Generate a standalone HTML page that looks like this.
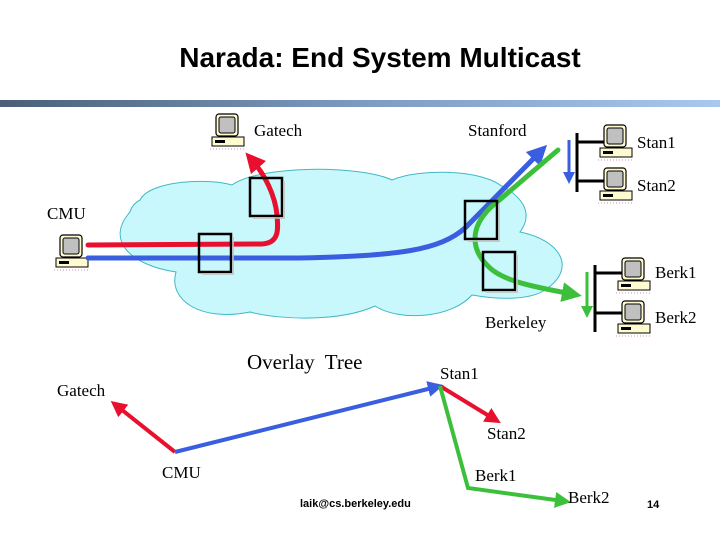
<!DOCTYPE html>
<html><head><meta charset="utf-8"><style>
body{margin:0;width:720px;height:540px;background:#fff;overflow:hidden}
svg{display:block}
.s{font-family:"Liberation Serif",serif;font-size:17px;fill:#000}
</style></head><body>
<svg width="720" height="540" viewBox="0 0 720 540">
<defs>
<linearGradient id="g" x1="0" x2="1"><stop offset="0" stop-color="#4a6078"/><stop offset="0.5" stop-color="#7d9ac0"/><stop offset="1" stop-color="#a8c8f0"/></linearGradient>
<marker id="ar" markerWidth="4" markerHeight="4" refX="2" refY="2" orient="auto" markerUnits="strokeWidth"><path d="M0,0 L4,2 L0,4 Z" fill="#e8102e"/></marker>
<marker id="ab" markerWidth="4" markerHeight="4" refX="2" refY="2" orient="auto" markerUnits="strokeWidth"><path d="M0,0 L4,2 L0,4 Z" fill="#3a5ee0"/></marker>
<marker id="ag" markerWidth="4" markerHeight="4" refX="2" refY="2" orient="auto" markerUnits="strokeWidth"><path d="M0,0 L4,2 L0,4 Z" fill="#3cc03c"/></marker>
<g id="pc">
<rect x="6" y="0" width="22" height="22" rx="3" fill="#fffbd0" stroke="#000" stroke-width="1.2"/>
<rect x="9" y="3" width="16" height="16" rx="2" fill="#c0c0c0" stroke="#000"/>
<rect x="2" y="23" width="32" height="9" fill="#fffbd0" stroke="#000"/>
<rect x="5" y="26" width="10" height="3" fill="#000"/>
<line x1="0" y1="35" x2="36" y2="35" stroke="#d090c0" stroke-dasharray="1,2"/>
</g>
</defs>
<text x="380" y="67" text-anchor="middle" font-family="Liberation Sans,sans-serif" font-size="28" font-weight="bold" fill="#000">Narada: End System Multicast</text>
<rect x="0" y="100" width="720" height="7" fill="url(#g)"/>
<path d="M140,200 C150,180 210,178 232,185 C260,165 360,165 392,180 C420,168 480,170 500,185 C520,195 535,212 520,232 C560,240 578,268 545,290 C530,300 500,300 472,295 C452,318 400,322 375,306 C340,322 280,320 250,312 C200,322 168,300 176,272 C130,265 105,240 130,212 C132,205 136,202 140,200 Z" fill="#c8f8fc" stroke="#40b8c8" stroke-width="1"/>
<use href="#pc" x="210" y="114"/>
<use href="#pc" x="54" y="235"/>
<use href="#pc" x="598" y="125"/>
<use href="#pc" x="598" y="168"/>
<use href="#pc" x="616" y="258"/>
<use href="#pc" x="616" y="301"/>
<g stroke="#000" stroke-width="3">
<line x1="577" y1="133" x2="577" y2="192"/><line x1="577" y1="142" x2="604" y2="142"/><line x1="577" y1="181" x2="604" y2="181"/>
<line x1="595" y1="265" x2="595" y2="332"/><line x1="595" y1="273" x2="622" y2="273"/><line x1="595" y1="313" x2="622" y2="313"/>
</g>
<line x1="569" y1="140" x2="569" y2="178" stroke="#3a5ee0" stroke-width="3" marker-end="url(#ab)"/>
<line x1="587" y1="272" x2="587" y2="312" stroke="#3cc03c" stroke-width="3" marker-end="url(#ag)"/>
<g fill="none" stroke-linecap="round">
<path d="M88,245 L262,244 C280,243 278,228 277,215 C275,195 265,175 252,160" stroke="#e8102e" stroke-width="5" marker-end="url(#ar)"/>
<path d="M88,258 L300,258 C400,256 440,250 465,228 L540,152" stroke="#3a5ee0" stroke-width="5" marker-end="url(#ab)"/>
<path d="M558,150 L490,208 C470,228 470,250 490,268 C505,282 540,288 572,294" stroke="#3cc03c" stroke-width="5" marker-end="url(#ag)"/>
</g>
<g fill="none" stroke="#000" stroke-width="2.5">
<rect x="250" y="178" width="32" height="38"/>
<rect x="199" y="234" width="32" height="38"/>
<rect x="465" y="201" width="32" height="38"/>
<rect x="483" y="252" width="32" height="38"/>
</g>
<g fill="none" stroke="#c0c0c0" stroke-width="2" opacity=".8">
<path d="M284,181 V218 H253"/><path d="M233,237 V274 H202"/><path d="M499,204 V241 H468"/><path d="M517,255 V292 H486"/>
</g>
<text class="s" x="254" y="136">Gatech</text>
<text class="s" x="468" y="136">Stanford</text>
<text class="s" x="637" y="148">Stan1</text>
<text class="s" x="637" y="191">Stan2</text>
<text class="s" x="47" y="219">CMU</text>
<text class="s" x="655" y="278">Berk1</text>
<text class="s" x="655" y="323">Berk2</text>
<text class="s" x="485" y="328">Berkeley</text>
<text x="247" y="369" font-family="Liberation Serif,serif" font-size="21">Overlay&#160; Tree</text>
<g stroke-width="4" fill="none">
<line x1="175" y1="452" x2="117" y2="406" stroke="#e8102e" marker-end="url(#ar)"/>
<line x1="175" y1="452" x2="436" y2="387" stroke="#3a5ee0" marker-end="url(#ab)"/>
<line x1="440" y1="386" x2="494" y2="419" stroke="#e8102e" marker-end="url(#ar)"/>
<polyline points="440,386 468,488 563,501" stroke="#3cc03c" marker-end="url(#ag)"/>
</g>
<text class="s" x="57" y="396">Gatech</text>
<text class="s" x="440" y="379">Stan1</text>
<text class="s" x="487" y="439">Stan2</text>
<text class="s" x="162" y="478">CMU</text>
<text class="s" x="475" y="481">Berk1</text>
<text class="s" x="568" y="503">Berk2</text>
<text x="300" y="507" font-family="Liberation Sans,sans-serif" font-size="11" font-weight="bold">laik@cs.berkeley.edu</text>
<text x="647" y="508" font-family="Liberation Sans,sans-serif" font-size="11" font-weight="bold">14</text>
</svg>
</body></html>
